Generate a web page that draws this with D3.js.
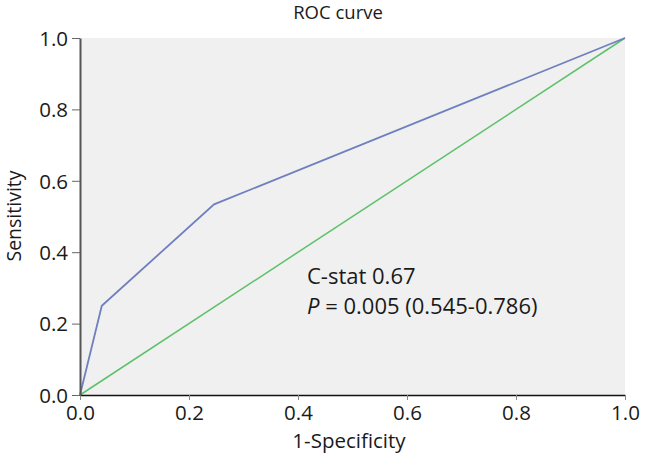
<!DOCTYPE html>
<html>
<head>
<meta charset="utf-8">
<script src="https://cdn.jsdelivr.net/npm/d3@7"></script>
<style>
body{margin:0;background:#fff;}
text{font-family:"Open Sans",sans-serif;fill:#1a1a1a;}
</style>
</head>
<body>
<svg id="chart" width="649" height="456"></svg>
<script>
const rocFPR = [0, 0.04, 0.246, 1];
const rocTPR = [0, 0.25, 0.534, 1];
const refFPR = [0, 1];
const refTPR = [0, 1];
const xTicks = [0, 0.2, 0.4, 0.6, 0.8, 1.0];
const yTicks = [0, 0.2, 0.4, 0.6, 0.8, 1.0];
const title = "ROC curve";
const xLabel = "1-Specificity";
const yLabel = "Sensitivity";
const statLine1 = "C-stat 0.67";
const statP = "P";
const statLine2 = " = 0.005 (0.545-0.786)";

const svg = d3.select("#chart");
const x = d3.scaleLinear().domain([0,1]).range([80,625]);
const y = d3.scaleLinear().domain([0,1]).range([395,38]);

svg.append("rect").attr("x",x(0)).attr("y",y(1)).attr("width",x(1)-x(0)).attr("height",y(0)-y(1)).attr("fill","#f0f0f0");

const line = d3.line().x(d=>x(d[0])).y(d=>y(d[1]));
svg.append("path").datum(refFPR.map((v,i)=>[v,refTPR[i]])).attr("d",line).attr("fill","none").attr("stroke","#5cc16a").attr("stroke-width",1.5);
svg.append("path").datum(rocFPR.map((v,i)=>[v,rocTPR[i]])).attr("d",line).attr("fill","none").attr("stroke","#6f7fbf").attr("stroke-width",1.8);

const xAxis = svg.append("g").attr("transform",`translate(0,${y(0)})`)
  .call(d3.axisBottom(x).tickValues(xTicks).tickFormat(d3.format(".1f")).tickSize(5).tickSizeOuter(0));
xAxis.attr("font-family",null).attr("font-size",null);
xAxis.select(".domain").attr("stroke","#111").attr("stroke-width",1.5);
xAxis.selectAll(".tick line").attr("stroke","#888");
xAxis.selectAll(".tick text").attr("font-size",20.5).attr("y",25).attr("dy",null).attr("fill","#1a1a1a");

const yAxis = svg.append("g").attr("transform",`translate(${x(0)},0)`)
  .call(d3.axisLeft(y).tickValues(yTicks).tickFormat(d3.format(".1f")).tickSize(8).tickSizeOuter(0));
yAxis.attr("font-family",null).attr("font-size",null);
yAxis.select(".domain").attr("stroke","#555").attr("stroke-width",2);
yAxis.selectAll(".tick line").attr("stroke","#666");
yAxis.selectAll(".tick text").attr("font-size",20.5).attr("x",-12).attr("dy","0.36em").attr("fill","#1a1a1a");

svg.append("text").attr("x",338).attr("y",19).attr("text-anchor","middle").attr("font-size",18.5).text(title);
svg.append("text").attr("x",349).attr("y",448).attr("text-anchor","middle").attr("font-size",20.5).text(xLabel);
svg.append("text").attr("transform","translate(21,216) rotate(-90)").attr("text-anchor","middle").attr("font-size",19.5).text(yLabel);

svg.append("text").attr("x",307).attr("y",284).attr("font-size",22).text(statLine1);
const t2 = svg.append("text").attr("x",307).attr("y",314).attr("font-size",22);
t2.append("tspan").attr("font-style","italic").text(statP);
t2.append("tspan").text(statLine2);
</script>
</body>
</html>
